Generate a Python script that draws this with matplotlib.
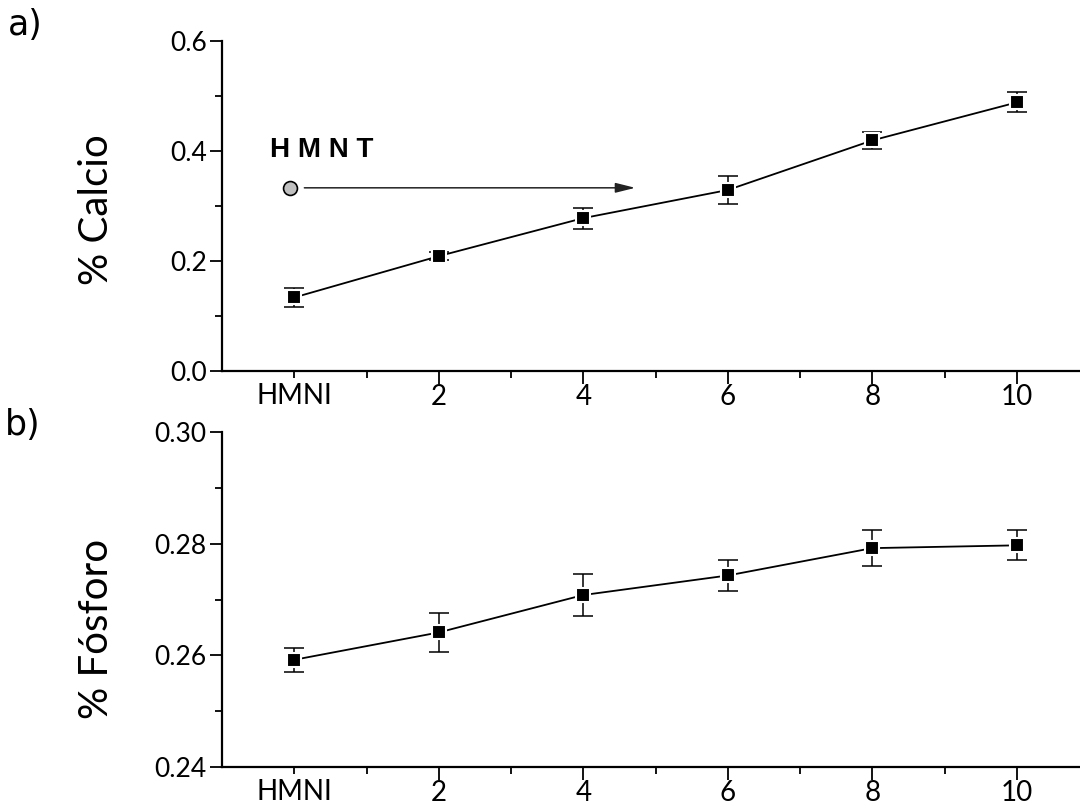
import matplotlib
matplotlib.use('Agg')
import matplotlib.pyplot as plt
from matplotlib import font_manager as fm
from matplotlib.ticker import MultipleLocator, FormatStrFormatter

# ---------------- data ----------------
tick_labels = ['HMNI', '2', '4', '6', '8', '10']
dose = [0, 2, 4, 6, 8, 10]          # HMNI plotted at position 0
calcio = [0.134, 0.209, 0.278, 0.329, 0.419, 0.488]
calcio_err = [0.017, 0.007, 0.019, 0.025, 0.016, 0.018]
fosforo = [0.2592, 0.2641, 0.2708, 0.2743, 0.2792, 0.2797]
fosforo_err = [0.0022, 0.0035, 0.0038, 0.0028, 0.0032, 0.0027]
hmnt_label = 'H M N T'
hmnt_value = 0.333


def pick(cands):
    for c in cands:
        try:
            fm.findfont(fm.FontProperties(family=c), fallback_to_default=False)
            return c
        except Exception:
            pass
    return 'DejaVu Sans'


NARROW = pick(['Liberation Sans Narrow', 'Lato'])
plt.rcParams['font.family'] = [NARROW, 'DejaVu Sans']

W, H = 1080, 811
fig = plt.figure(figsize=(W / 100, H / 100), dpi=100)


def rect(l, r, t, b):
    return [l / W, 1 - b / H, (r - l) / W, (b - t) / H]


ax1 = fig.add_axes(rect(222, 1089, 40.7, 371.3))
ax2 = fig.add_axes(rect(222, 1089, 432, 767))


def style(ax, ylim, ymaj, ymin):
    for s in ('top', 'right'):
        ax.spines[s].set_visible(False)
    for s in ('left', 'bottom'):
        ax.spines[s].set_linewidth(1.6)
    ax.set_xlim(-1, 11)
    ax.set_ylim(*ylim)
    ax.set_xticks(dose[1:], tick_labels[1:])
    ax.set_xticks([0, 1, 3, 5, 7, 9], [tick_labels[0], '', '', '', '', ''], minor=True)
    ax.tick_params(axis='x', which='major', direction='out', length=9, width=1.3,
                   pad=0.5, labelsize=20)
    ax.tick_params(axis='x', which='minor', direction='out', length=5, width=1.3,
                   pad=3.5, labelsize=20)
    ax.yaxis.set_major_locator(MultipleLocator(ymaj))
    ax.yaxis.set_minor_locator(MultipleLocator(ymin))
    ax.tick_params(axis='y', which='major', direction='out', length=9, width=1.3,
                   pad=2, labelsize=19)
    ax.tick_params(axis='y', which='minor', direction='out', length=5, width=1.3)


style(ax1, (0, 0.6), 0.2, 0.1)
style(ax2, (0.24, 0.30), 0.02, 0.01)
ax1.yaxis.set_major_formatter(FormatStrFormatter('%.1f'))
ax2.yaxis.set_major_formatter(FormatStrFormatter('%.2f'))


def series(ax, y, err):
    ax.plot(dose, y, color='black', lw=1.3, zorder=2)
    ax.errorbar(dose, y, yerr=err, fmt='none', ecolor='black', elinewidth=1.1,
                capsize=7, capthick=1.1, zorder=3)
    ax.plot(dose, y, ls='none', marker='s', ms=10.5, mfc='black', mec='white',
            mew=1.5, zorder=4)


series(ax1, calcio, calcio_err)
series(ax2, fosforo, fosforo_err)

# HMNT annotation
ax1.plot([-0.06], [hmnt_value], marker='o', ms=10, mfc='#c0c0c0', mec='black',
         mew=1.2, zorder=5)
ax1.annotate('', xy=(4.72, hmnt_value), xytext=(0.14, hmnt_value),
             arrowprops=dict(arrowstyle='-|>,head_length=0.8,head_width=0.2',
                             color='#222222', lw=1.1, mutation_scale=15,
                             shrinkA=0, shrinkB=0))
ax1.text(-0.34, 0.402, hmnt_label, fontweight='bold', family='Liberation Sans',
         fontsize=20, va='center', ha='left')

# axis labels and panel letters
fig.text(97 / W, 1 - 210 / H, '% Calcio', rotation=90, ha='center', va='center',
         fontsize=29)
fig.text(97 / W, 1 - 629 / H, '% Fósforo', rotation=90, ha='center', va='center',
         fontsize=29)
fig.text(8 / W, 1 - 8 / H, 'a)', ha='left', va='top', fontsize=25,
         family='DejaVu Sans')
fig.text(5 / W, 1 - 408 / H, 'b)', ha='left', va='top', fontsize=25,
         family='DejaVu Sans')

fig.savefig('out.png', dpi=100)
